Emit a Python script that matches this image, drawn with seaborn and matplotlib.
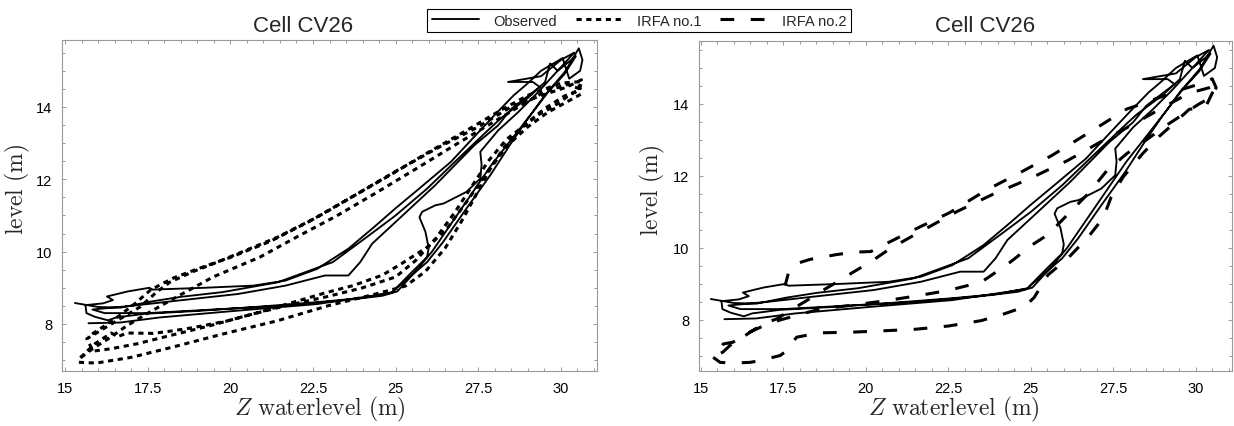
import matplotlib
matplotlib.use("Agg")
import matplotlib.pyplot as plt
import seaborn as sns
from matplotlib.lines import Line2D
from matplotlib.ticker import MultipleLocator, FuncFormatter

# ---------------------------------------------------------------------------
# Observed hysteresis trajectory of cell CV26 (Z waterlevel vs. level), in time order
# ---------------------------------------------------------------------------
obs_z = [
    15.71, 16.67, 17.86, 20.24, 22.62, 24.88,
    25.00, 25.48, 25.95, 26.43, 27.14, 27.86, 28.45, 28.93, 29.52, 30.12, 30.54,
    30.65, 30.58, 30.25, 30.05, 29.40, 28.93, 28.57, 28.04, 27.30, 26.67, 25.71,
    25.00, 24.40, 23.57, 22.62, 21.67, 20.70, 19.20, 17.65,
    17.55, 16.90, 16.27, 16.45, 16.15, 15.62, 15.65, 15.90, 16.30, 16.55, 17.40,
    19.00, 20.60, 22.60, 24.00, 24.90, 25.40, 25.95, 26.00, 25.90, 25.72, 25.80,
    26.20, 26.45, 27.14, 27.56, 27.60, 27.56, 28.10, 28.70, 29.30, 29.90, 30.40,
    30.00, 29.40, 28.40, 29.15, 29.36, 28.50, 28.10,
    27.38, 26.19, 25.00, 24.29, 23.93, 23.57, 22.86, 21.67, 20.24, 18.45, 17.00, 15.83,
    16.20, 17.50, 19.50, 21.50, 23.50, 24.60, 25.05, 25.60, 26.10, 26.70, 27.30,
    27.90, 28.50, 29.10, 29.60, 30.10, 30.45,
    29.90, 29.67, 29.52, 29.00, 28.20, 27.74, 26.79, 25.95, 25.00, 24.05, 23.10,
    21.43, 19.76, 18.50, 17.60, 16.67, 16.00, 15.30,
]
obs_level = [
    8.02, 8.04, 8.18, 8.37, 8.55, 8.86,
    8.97, 9.34, 9.71, 10.26, 11.19, 12.11, 12.94, 13.59, 14.33, 14.97, 15.62,
    15.30, 15.00, 14.78, 15.35, 15.00, 14.60, 14.32, 13.82, 13.10, 12.48, 11.74,
    11.20, 10.72, 10.08, 9.52, 9.20, 9.06, 9.00, 8.95,
    9.00, 8.90, 8.76, 8.66, 8.57, 8.52, 8.30, 8.20, 8.10, 8.18, 8.28,
    8.36, 8.46, 8.60, 8.72, 8.88, 9.35, 9.85, 10.10, 10.55, 10.95, 11.10,
    11.28, 11.33, 11.65, 12.02, 12.40, 12.76, 13.35, 13.85, 14.40, 15.00, 15.50,
    15.30, 14.85, 14.69, 14.69, 14.55, 13.95, 13.49,
    12.94, 11.83, 10.82, 10.22, 9.71, 9.34, 9.34, 9.06, 8.83, 8.65, 8.50, 8.40,
    8.30, 8.30, 8.40, 8.50, 8.66, 8.78, 8.90, 9.45, 10.00, 10.80, 11.60,
    12.40, 13.10, 13.80, 14.40, 14.90, 15.40,
    15.00, 15.20, 14.69, 14.25, 13.70, 13.31, 12.48, 11.74, 11.00, 10.35, 9.71,
    9.15, 8.88, 8.75, 8.62, 8.45, 8.47, 8.58,
]

# ---------------------------------------------------------------------------
# IRFA no.1 simulated trajectory
# ---------------------------------------------------------------------------
irfa1_z = [
    15.42, 15.95, 17.02, 18.21, 19.76, 21.43, 22.98, 24.40, 25.30, 25.90, 26.50,
    27.00, 27.45, 27.90, 28.40, 29.00, 29.60, 30.20, 30.60,
    30.55, 30.62, 30.18, 29.36, 28.52, 27.54, 26.34, 25.00, 23.81, 22.62, 21.43,
    20.24, 19.69, 18.88, 18.18, 17.77, 17.27, 16.66, 16.15, 15.66,
    15.85, 16.36, 17.17, 18.18, 19.38, 20.49, 21.70, 22.90, 24.00, 25.00, 25.60,
    26.20, 26.80, 27.30, 27.80, 28.36, 28.76, 29.36, 29.76, 30.17, 30.57,
    30.20, 29.50, 28.90, 27.90, 26.80, 25.60, 24.40, 23.20, 22.00, 20.90, 19.48,
    18.38, 17.47, 16.87, 16.36, 15.86, 15.42,
    15.90, 16.40, 16.60, 16.87, 17.67, 18.18, 18.88, 19.89, 20.90, 21.90, 22.91,
    23.71, 24.60, 25.20, 25.95, 26.55, 27.14, 27.62, 28.33, 28.90, 29.50, 30.10, 30.55,
    30.62, 30.00, 29.00, 28.20, 27.20, 26.00, 24.80, 23.60, 22.40, 21.20, 20.00,
    19.00, 18.30, 17.60, 17.10, 16.60, 16.20, 15.70,
]
irfa1_level = [
    6.94, 6.92, 7.08, 7.35, 7.72, 8.09, 8.51, 8.83, 9.05, 9.45, 10.10,
    10.85, 11.60, 12.35, 12.95, 13.45, 13.85, 14.15, 14.35,
    14.60, 14.75, 14.55, 14.30, 14.02, 13.47, 12.90, 12.22, 11.58, 10.95, 10.40,
    9.95, 9.74, 9.45, 9.16, 8.88, 8.47, 8.14, 7.86, 7.59,
    7.25, 7.31, 7.45, 7.68, 7.95, 8.23, 8.51, 8.75, 9.00, 9.30, 9.75,
    10.35, 11.10, 11.80, 12.50, 13.11, 13.39, 13.81, 14.00, 14.27, 14.50,
    14.62, 14.42, 14.10, 13.55, 12.95, 12.28, 11.62, 10.98, 10.40, 9.85, 9.30,
    8.75, 8.28, 7.95, 7.62, 7.33, 7.03,
    7.45, 7.75, 7.65, 7.75, 7.74, 7.80, 7.90, 8.08, 8.33, 8.60, 8.87,
    9.06, 9.35, 9.68, 10.12, 10.63, 11.37, 12.00, 12.94, 13.50, 13.95, 14.30, 14.45,
    14.70, 14.66, 14.32, 13.92, 13.38, 12.75, 12.10, 11.47, 10.84, 10.28, 9.84,
    9.52, 9.28, 8.95, 8.55, 8.20, 7.95, 7.65,
]

# ---------------------------------------------------------------------------
# IRFA no.2 simulated trajectory
# ---------------------------------------------------------------------------
irfa2_z = [
    15.37, 15.58, 15.97, 16.49, 16.79, 17.40, 17.55, 17.90, 18.60, 19.60, 20.60,
    21.50, 22.50, 23.50, 24.20, 24.80, 25.10, 25.52, 26.12, 26.72, 27.20, 27.43,
    27.79, 28.39, 28.87, 29.34, 29.80, 30.30, 30.50, 30.65,
    30.40, 29.80, 29.00, 28.15, 27.20, 26.12, 24.93, 23.85, 22.78, 21.47, 20.75,
    20.14, 19.62, 19.12, 18.62, 18.21, 17.70, 17.30, 16.89, 16.49, 16.19, 15.88,
    15.67, 15.48,
    15.67, 15.97, 16.34, 16.93, 17.41, 18.00, 18.60, 19.50, 20.50, 21.50, 22.50,
    23.50, 24.30, 25.05, 25.52, 26.12, 26.72, 27.31, 27.91, 28.50, 29.10, 29.60,
    30.10, 30.50, 30.62,
    30.50, 30.20, 29.50, 28.90, 28.27, 27.91, 26.72, 25.64, 24.69, 23.62, 22.54,
    21.47, 20.75, 20.15, 19.60, 19.08, 18.30, 17.95, 17.65, 17.55,
]
irfa2_level = [
    6.96, 6.82, 6.80, 6.82, 6.87, 7.01, 7.11, 7.52, 7.64, 7.66, 7.70,
    7.74, 7.83, 7.98, 8.17, 8.36, 8.62, 9.25, 9.71, 10.28, 10.84, 11.40,
    11.96, 12.62, 13.08, 13.46, 13.85, 13.92, 14.30, 14.55,
    14.45, 14.30, 13.90, 13.46, 12.99, 12.43, 11.91, 11.49, 11.02, 10.36, 9.99,
    9.61, 9.33, 9.05, 8.78, 8.54, 8.26, 8.03, 7.89, 7.66, 7.47, 7.29,
    7.11, 7.01,
    7.33, 7.38, 7.60, 7.85, 8.00, 8.15, 8.30, 8.40, 8.52, 8.66, 8.82,
    9.05, 9.55, 10.09, 10.37, 10.93, 11.49, 12.15, 12.62, 13.00, 13.40, 13.70,
    14.00, 14.20, 14.45,
    14.70, 14.58, 14.38, 14.18, 13.97, 13.86, 13.18, 12.57, 12.10, 11.59, 10.98,
    10.51, 10.18, 9.90, 9.88, 9.81, 9.68, 9.58, 9.30, 8.95,
]

panel_title = "Cell CV26"
x_label = r"$Z\ \mathrm{waterlevel\ (m)}$"
y_label = r"$\mathrm{level\ (m)}$"
legend_labels = ["Observed", "IRFA no.1", "IRFA no.2"]

# ---------------------------------------------------------------------------
sns.set_theme(style="white")
plt.rcParams["font.family"] = ["Liberation Sans", "DejaVu Sans"]
plt.rcParams["mathtext.fontset"] = "cm"

obs_style = dict(color="black", linewidth=1.35, linestyle="-")
irfa1_style = dict(color="black", linewidth=2.2, linestyle=(0, (1.7, 1.5)))
irfa2_style = dict(color="black", linewidth=2.2, linestyle=(0, (4.5, 5.4)))

W, H = 1234, 427
fig = plt.figure(figsize=(W / 100, H / 100), dpi=100)
ax1 = fig.add_axes([62 / W, 55 / H, 535 / W, 331 / H])
ax2 = fig.add_axes([699 / W, 55 / H, 533 / W, 330 / H])

assert len(obs_z) == len(obs_level)
assert len(irfa1_z) == len(irfa1_level)
assert len(irfa2_z) == len(irfa2_level)

for ax, model_z, model_level, model_style in (
    (ax1, irfa1_z, irfa1_level, irfa1_style),
    (ax2, irfa2_z, irfa2_level, irfa2_style),
):
    sns.lineplot(x=model_z, y=model_level, sort=False, estimator=None, ax=ax, **model_style)
    sns.lineplot(x=obs_z, y=obs_level, sort=False, estimator=None, ax=ax, **obs_style)

ax1.set_xlim(14.91, 31.09)
ax1.set_ylim(6.70, 15.85)
ax2.set_xlim(14.94, 31.10)
ax2.set_ylim(6.58, 15.75)

fmt = FuncFormatter(lambda v, _: f"{v:g}")
for ax in (ax1, ax2):
    ax.xaxis.set_major_locator(MultipleLocator(2.5))
    ax.xaxis.set_minor_locator(MultipleLocator(0.5))
    ax.yaxis.set_major_locator(MultipleLocator(2))
    ax.yaxis.set_minor_locator(MultipleLocator(0.5))
    ax.xaxis.set_major_formatter(fmt)
    ax.yaxis.set_major_formatter(fmt)
    ax.tick_params(which="both", direction="in", top=True, right=True,
                   bottom=True, left=True, color="#9a9a9a", width=0.7,
                   labelsize=10.5, labelcolor="black", pad=7)
    ax.tick_params(which="major", length=3.1)
    ax.tick_params(which="minor", length=1.9)
    for sp in ax.spines.values():
        sp.set_color("#9a9a9a")
        sp.set_linewidth(0.8)
    ax.set_xlabel(x_label, fontsize=17)
    ax.set_ylabel(y_label, fontsize=17)
    ax.grid(False)

ax1.xaxis.set_label_coords(0.482, -0.07)
ax2.xaxis.set_label_coords(0.478, -0.07)
ax1.yaxis.set_label_coords(-0.057, 0.55)
ax2.yaxis.set_label_coords(-0.060, 0.55)

fig.text(303 / W, 1 - 32 / H, panel_title, ha="center", va="baseline", fontsize=16)
fig.text(985 / W, 1 - 32 / H, panel_title, ha="center", va="baseline", fontsize=16)

handles = [Line2D([], [], **obs_style),
           Line2D([], [], **irfa1_style),
           Line2D([], [], **irfa2_style)]
leg = fig.legend(handles, legend_labels, ncol=3, loc="center",
                 bbox_to_anchor=(639 / W, 1 - 21.5 / H), frameon=True,
                 fancybox=False, framealpha=1, edgecolor="black", fontsize=10.5,
                 handlelength=3.2, handletextpad=1.0, columnspacing=1.3,
                 borderpad=0.3, borderaxespad=0)
leg.get_frame().set_linewidth(0.8)

fig.savefig("out.png", dpi=100)
